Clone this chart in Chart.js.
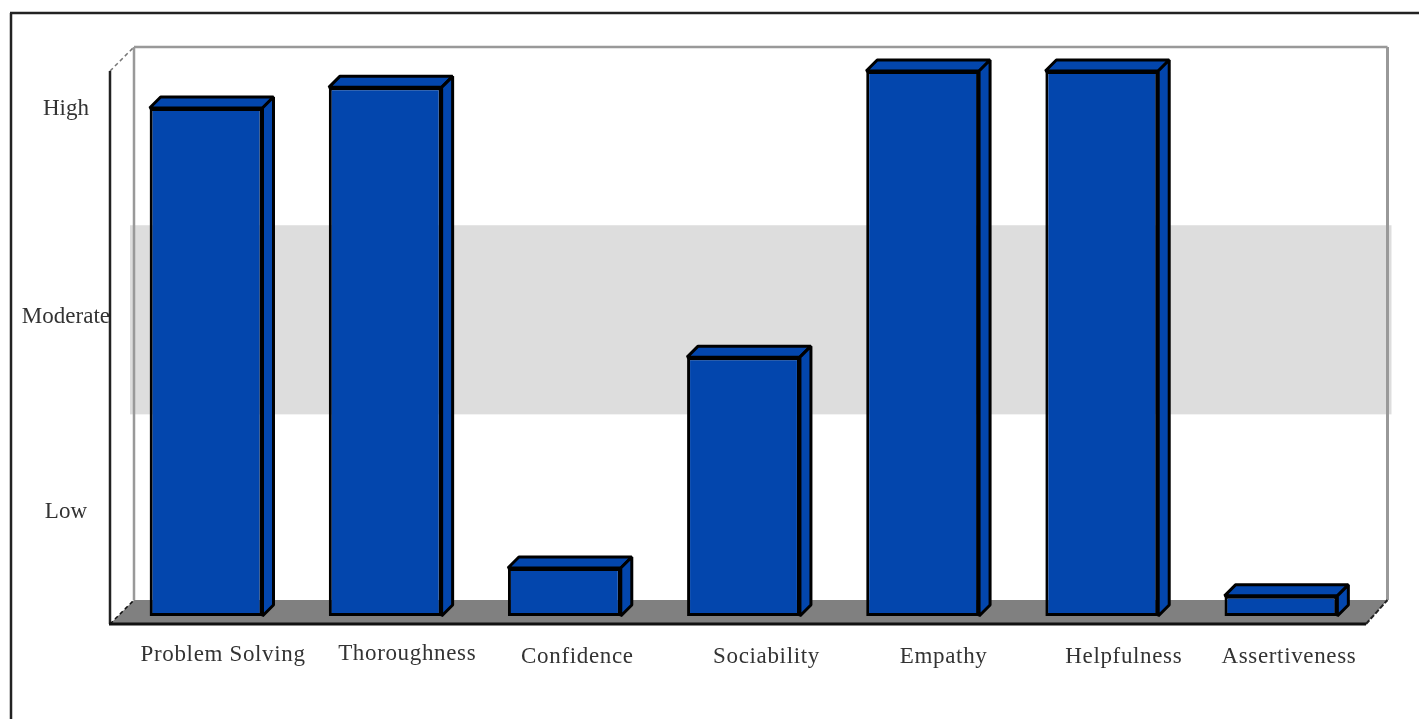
<!DOCTYPE html>
<html lang="en">
<head>
  <meta charset="UTF-8">
  <title>Skills chart</title>
  <script src="https://cdn.jsdelivr.net/npm/chart.js"></script>
  <style>
    html, body { margin: 0; padding: 0; background: #fff; overflow: hidden; }
    #wrap { width: 1419px; height: 719px; }
    #skillsChart { filter: blur(0.6px); }
  </style>
</head>
<body>
  <div id="wrap"><canvas id="skillsChart" width="1419" height="719"></canvas></div>
  <script>
    const categories = ['Problem Solving', 'Thoroughness', 'Confidence', 'Sociability', 'Empathy', 'Helpfulness', 'Assertiveness'];
    const scores = [93.2, 97, 8.8, 47.5, 100, 100, 3.7];
    const levelLabels = ['Low', 'Moderate', 'High'];
    const levelValues = [19.1, 54.8, 93];
    const moderateBand = [37, 71.7];

    // the category labels sit unevenly under the bars in the original
    const labelShiftX = [17, 22, 13, 23, 21, 22, 8];
    const labelShiftY = [39, 38, 41, 41, 41, 41, 41];

    const BLUE = '#0346AD';
    const DEPTH_X = 11;
    const DEPTH_Y = 11;

    function line(ctx, x1, y1, x2, y2, color, width, dash) {
      ctx.save();
      ctx.strokeStyle = color;
      ctx.lineWidth = width;
      ctx.setLineDash(dash || []);
      ctx.beginPath();
      ctx.moveTo(x1, y1);
      ctx.lineTo(x2, y2);
      ctx.stroke();
      ctx.restore();
    }

    function poly(ctx, pts) {
      ctx.beginPath();
      pts.forEach((p, i) => i ? ctx.lineTo(p[0], p[1]) : ctx.moveTo(p[0], p[1]));
      ctx.closePath();
      ctx.fill();
      ctx.stroke();
    }

    // room behind the bars: outer frame, walls, floor, moderate band
    const roomPlugin = {
      id: 'room',
      beforeDatasetsDraw(chart) {
        const { ctx, chartArea: a, scales: { y } } = chart;
        const frontL = a.left - 6.5, frontR = a.right - 4.5;
        const backL = a.left + 17.5, backR = a.right + 17;
        const floorFront = a.bottom + 8, floorBack = a.bottom - 16;
        const backTop = a.top - 24;

        line(ctx, 10, 13, 1419, 13, '#222', 2.5);
        line(ctx, 11, 13, 11, 719, '#222', 2.5);

        ctx.fillStyle = '#DDDDDD';
        ctx.fillRect(backL - 4, y.getPixelForValue(moderateBand[1]), backR - backL + 8,
          y.getPixelForValue(moderateBand[0]) - y.getPixelForValue(moderateBand[1]));

        ctx.fillStyle = '#808080';
        ctx.beginPath();
        ctx.moveTo(frontL, floorFront);
        ctx.lineTo(frontR, floorFront);
        ctx.lineTo(backR, floorBack);
        ctx.lineTo(backL, floorBack);
        ctx.closePath();
        ctx.fill();

        line(ctx, backL, floorBack, backL, backTop, '#999', 2.5);
        line(ctx, backL, backTop, backR, backTop, '#999', 2.5);
        line(ctx, backR, backTop, backR, floorBack, '#999', 3);
        line(ctx, frontL, a.top, backL, backTop, '#777', 1.5, [4, 3]);
        line(ctx, frontL, a.top, frontL, floorFront, '#222', 2.5);
        line(ctx, frontL - 1, floorFront, frontR, floorFront, '#111', 3);
        line(ctx, frontL, floorFront, backL, floorBack, '#111', 1.5, [4, 3]);
        line(ctx, frontR, floorFront, backR, floorBack, '#222', 2, [5, 2]);

        // top and side faces of each bar, taken from the bar elements
        ctx.save();
        ctx.fillStyle = BLUE;
        ctx.strokeStyle = '#000';
        ctx.lineWidth = 3;
        ctx.lineJoin = 'bevel';
        chart.getDatasetMeta(0).data.forEach(bar => {
          const { x, y: top, base, width } = bar.getProps(['x', 'y', 'base', 'width'], true);
          const l = x - width / 2, r = x + width / 2;
          poly(ctx, [[l, top], [r, top], [r + DEPTH_X, top - DEPTH_Y], [l + DEPTH_X, top - DEPTH_Y]]);
          poly(ctx, [[r, top], [r + DEPTH_X, top - DEPTH_Y], [r + DEPTH_X, base - DEPTH_Y], [r, base]]);
        });
        ctx.restore();
      },
      afterDatasetsDraw(chart) {
        const { ctx, scales: { x, y } } = chart;
        ctx.save();
        ctx.font = '23px "Liberation Serif"';
        ctx.letterSpacing = '0.65px';
        ctx.fillStyle = '#333';
        ctx.textAlign = 'center';
        ctx.textBaseline = 'middle';
        categories.forEach((name, i) => {
          ctx.fillText(name, x.getPixelForValue(i) + labelShiftX[i], y.bottom + labelShiftY[i]);
        });
        ctx.restore();
      }
    };

    new Chart(document.getElementById('skillsChart').getContext('2d'), {
      type: 'bar',
      data: {
        labels: categories,
        datasets: [{
          data: scores,
          backgroundColor: BLUE,
          borderColor: '#000',
          borderWidth: 3,
          borderSkipped: false,
          categoryPercentage: 1,
          barPercentage: 0.63
        }]
      },
      options: {
        responsive: false,
        animation: false,
        layout: { padding: { top: 71, right: 48.5, left: 0, bottom: 0 } },
        plugins: { legend: { display: false }, tooltip: { enabled: false } },
        scales: {
          x: {
            grid: { display: false, drawTicks: false },
            border: { display: false },
            ticks: { display: false },
            afterFit: s => { s.height = 103; }
          },
          y: {
            min: 0,
            max: 100,
            grid: { display: false, drawTicks: false },
            border: { display: false },
            afterFit: s => { s.width = 116.5; },
            afterBuildTicks: s => { s.ticks = levelValues.map(v => ({ value: v })); },
            ticks: {
              autoSkip: false,
              crossAlign: 'center',
              padding: 6.5,
              color: '#333',
              font: { family: '"Liberation Serif"', size: 23 },
              callback: value => levelLabels[levelValues.indexOf(value)]
            }
          }
        }
      },
      plugins: [roomPlugin]
    });
  </script>
</body>
</html>
